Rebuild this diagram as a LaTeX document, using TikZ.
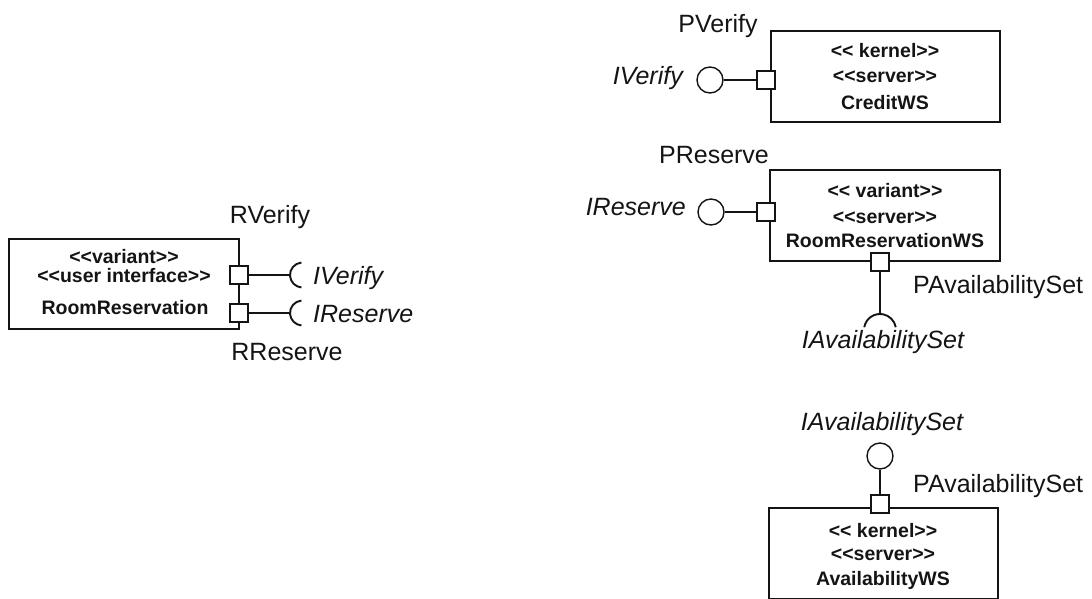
\documentclass[tikz,border=0pt]{standalone}
\usepackage{fontspec}
\setmainfont{Liberation Sans}
\definecolor{ink}{gray}{0.08}
\newcommand\lguil{<\kern0pt<}
\newcommand\rguil{>\kern0pt>}
\begin{document}
\begin{tikzpicture}[x=1pt,y=-1pt,
  comp/.style={draw=ink,line width=1.3pt,inner sep=0pt},
  port/.style={draw=ink,fill=white,line width=1.3pt,minimum size=18pt,inner sep=0pt},
  ball/.style={draw=ink,fill=white,circle,line width=1.4pt,minimum size=26pt,inner sep=0pt},
  wire/.style={draw=ink,line width=2.2pt},
  socket/.style={draw=ink,line width=1.9pt},
  lbl/.style={font=\fontsize{25}{28}\selectfont,inner sep=0pt,text=ink},
  ilbl/.style={font=\fontsize{25}{28}\selectfont\itshape,inner sep=0pt,text=ink},
  boxtxt/.style={font=\fontsize{19.5}{21}\selectfont\bfseries,inner sep=0pt,anchor=base,text=ink}]
\useasboundingbox (0,0) rectangle (1092,599);

% ---- RoomReservation (client side) ----
\node[comp,minimum width=230pt,minimum height=90pt] (rr) at (124,284) {};
\node[boxtxt] (rrA) at (124,263) {\lguil variant\rguil};
\node[boxtxt] (rrB) at (124,282) {\lguil user interface\rguil};
\node[boxtxt] (rrC) at (125,314) {RoomReservation};

\coordinate (sV) at (290,275);
\coordinate (sR) at (290,313);
\node[port] (rPV) at (239,275) {};
\node[port] (rPR) at (239,313) {};
\draw[wire] (rPV.east) -- (sV);
\draw[wire] (rPR.east) -- (sR);
\draw[socket] ([shift={(12.5,0)}]sV) ++(95:12.5pt) arc[start angle=95,end angle=265,radius=12.5pt];
\draw[socket] ([shift={(12.5,0)}]sR) ++(95:12.5pt) arc[start angle=95,end angle=265,radius=12.5pt];
\node[port] at (rPV) {};
\node[port] at (rPR) {};

\node[lbl,anchor=base] (lRV) at (270,223) {RVerify};
\node[lbl,anchor=base] (lRR) at (287,360) {RReserve};
\node[ilbl,anchor=base west] (lIV) at (313,284) {IVerify};
\node[ilbl,anchor=base west] (lIR) at (313,322) {IReserve};

% ---- CreditWS ----
\node[comp,minimum width=229pt,minimum height=91pt] (cws) at (885.5,76.5) {};
\node[boxtxt] (cwsA) at (885,58) {\lguil{} kernel\rguil};
\node[boxtxt] (cwsB) at (885,83) {\lguil server\rguil};
\node[boxtxt] (cwsC) at (885,110) {CreditWS};
\node[ball] (bV) at (710,80) {};
\node[port] (pV) at (766,80) {};
\draw[wire] (bV.east) -- (pV.west);
\node[lbl,anchor=base] (lPV) at (718,33) {PVerify};
\node[ilbl,anchor=base east] (lIV2) at (683,85) {IVerify};

% ---- RoomReservationWS ----
\node[comp,minimum width=230pt,minimum height=91pt] (rws) at (885,215.5) {};
\node[boxtxt] (rwsA) at (885,197) {\lguil{} variant\rguil};
\node[boxtxt] (rwsB) at (885,223) {\lguil server\rguil};
\node[boxtxt] (rwsC) at (885,247) {RoomReservationWS};
\node[ball] (bR) at (711,212) {};
\node[port] (pR) at (766,212) {};
\draw[wire] (bR.east) -- (pR.west);
\node[lbl,anchor=base] (lPR) at (714,163) {PReserve};
\node[ilbl,anchor=base east] (lIR2) at (686,215) {IReserve};

\coordinate (sA) at (880,314);
\node[port] (pA1) at (880,262) {};
\draw[wire] (pA1.south) -- (sA);
\draw[socket] ([shift={(0,16)}]sA) ++(170:16pt) arc[start angle=170,end angle=10,radius=16pt];
\node[port] at (pA1) {};
\node[lbl,anchor=base west] (lPA1) at (913,293) {PAvailabilitySet};
\node[ilbl,anchor=base] (lIA1) at (883,348) {IAvailabilitySet};

% ---- AvailabilityWS ----
\node[comp,minimum width=229pt,minimum height=91pt] (aws) at (883.5,553.5) {};
\node[boxtxt] (awsA) at (883,537) {\lguil{} kernel\rguil};
\node[boxtxt] (awsB) at (883,560) {\lguil server\rguil};
\node[boxtxt] (awsC) at (883,585) {AvailabilityWS};
\node[ball] (bA) at (880,456) {};
\node[port] (pA2) at (880,504) {};
\draw[wire] (bA.south) -- (pA2.north);
\node[ilbl,anchor=base] (lIA2) at (882,430) {IAvailabilitySet};
\node[lbl,anchor=base west] (lPA2) at (913,492) {PAvailabilitySet};
\end{tikzpicture}
\end{document}
